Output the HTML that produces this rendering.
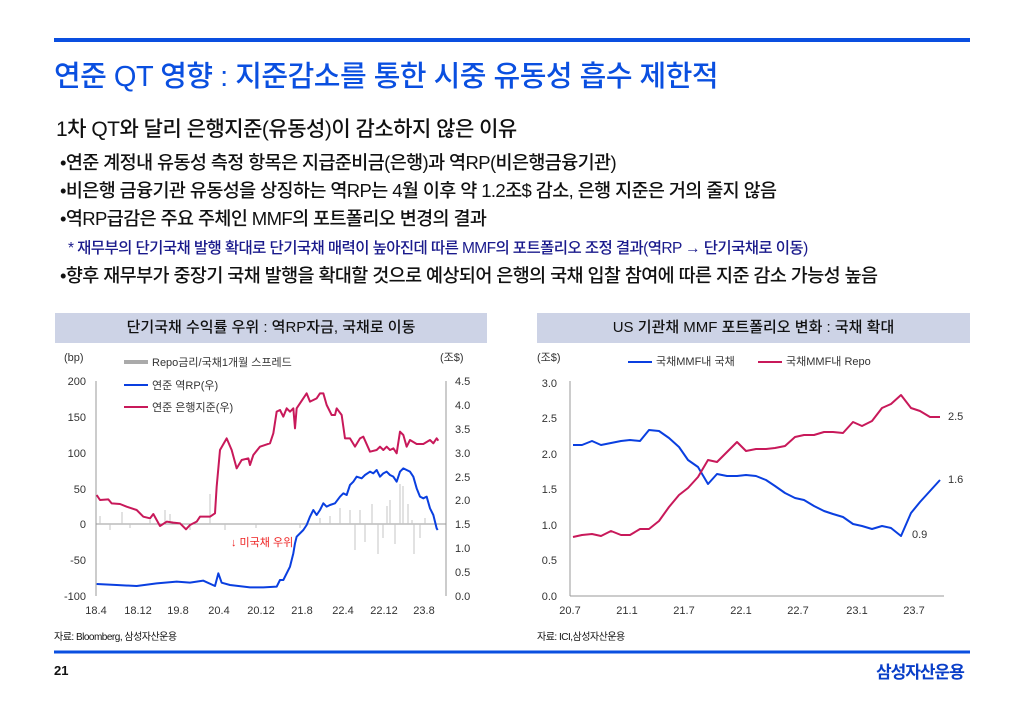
<!DOCTYPE html>
<html><head><meta charset="utf-8"><style>
body{margin:0;width:1024px;height:709px;background:#fff;position:relative;overflow:hidden;font-family:"Liberation Sans","Noto Sans CJK KR",sans-serif;color:#111}
.a{position:absolute;white-space:nowrap}
.b{font-size:18.5px;letter-spacing:-0.6px;font-weight:500;left:60px}
</style></head><body>
<div class="a" style="left:54px;top:38px;width:916px;height:4px;background:#0a4fe0"></div>
<div class="a" style="left:54px;top:53px;font-size:29px;color:#0a4fe0;letter-spacing:-0.5px;font-weight:500">연준 QT 영향 : 지준감소를 통한 시중 유동성 흡수 제한적</div>
<div class="a" style="left:56px;top:113px;font-size:21px;letter-spacing:-0.5px;font-weight:500">1차 QT와 달리 은행지준(유동성)이 감소하지 않은 이유</div>
<div class="a b" style="top:149px">•연준 계정내 유동성 측정 항목은 지급준비금(은행)과 역RP(비은행금융기관)</div>
<div class="a b" style="top:177px">•비은행 금융기관 유동성을 상징하는 역RP는 4월 이후 약 1.2조$ 감소, 은행 지준은 거의 줄지 않음</div>
<div class="a b" style="top:205px">•역RP급감은 주요 주체인 MMF의 포트폴리오 변경의 결과</div>
<div class="a" style="left:68px;top:236px;font-size:15.5px;color:#1a1a8c;letter-spacing:-0.6px;font-weight:500">* 재무부의 단기국채 발행 확대로 단기국채 매력이 높아진데 따른 MMF의 포트폴리오 조정 결과(역RP → 단기국채로 이동)</div>
<div class="a b" style="top:262px">•향후 재무부가 중장기 국채 발행을 확대할 것으로 예상되어 은행의 국채 입찰 참여에 따른 지준 감소 가능성 높음</div>

<div class="a" style="left:55px;top:313px;width:432px;height:30px;background:#cdd3e6;font-size:15px;line-height:30px;text-align:center;font-weight:500">단기국채 수익률 우위 : 역RP자금, 국채로 이동</div>
<div class="a" style="left:537px;top:313px;width:433px;height:30px;background:#cdd3e6;font-size:15px;line-height:30px;text-align:center;font-weight:500">US 기관채 MMF 포트폴리오 변화 : 국채 확대</div>

<svg class="a" style="left:0;top:0" width="1024" height="709" font-family="Liberation Sans, Noto Sans CJK KR, sans-serif">
<g font-size="11" fill="#333">
<text x="64" y="361">(bp)</text><text x="440" y="361">(조$)</text>
<g text-anchor="end"><text x="86" y="385">200</text><text x="86" y="421">150</text><text x="86" y="457">100</text><text x="86" y="493">50</text><text x="86" y="528">0</text><text x="86" y="564">-50</text><text x="86" y="600">-100</text></g>
<g><text x="455" y="385">4.5</text><text x="455" y="409">4.0</text><text x="455" y="433">3.5</text><text x="455" y="457">3.0</text><text x="455" y="481">2.5</text><text x="455" y="504">2.0</text><text x="455" y="528">1.5</text><text x="455" y="552">1.0</text><text x="455" y="576">0.5</text><text x="455" y="600">0.0</text></g>
<g text-anchor="middle"><text x="96" y="614">18.4</text><text x="138" y="614">18.12</text><text x="178" y="614">19.8</text><text x="219" y="614">20.4</text><text x="261" y="614">20.12</text><text x="302" y="614">21.8</text><text x="343" y="614">22.4</text><text x="384" y="614">22.12</text><text x="424" y="614">23.8</text></g>
<text x="152" y="366">Repo금리/국채1개월 스프레드</text>
<text x="152" y="389">연준 역RP(우)</text>
<text x="152" y="411">연준 은행지준(우)</text>
<text x="231" y="546" fill="#e22">↓ 미국채 우위</text>
</g>
<rect x="124" y="360" width="24" height="4" fill="#aaa"/>
<line x1="124" y1="385" x2="148" y2="385" stroke="#0a3fe0" stroke-width="2"/>
<line x1="124" y1="407" x2="148" y2="407" stroke="#c8195a" stroke-width="2"/>
<line x1="96" y1="381" x2="96" y2="596" stroke="#999"/>
<line x1="446" y1="381" x2="446" y2="596" stroke="#999"/>
<line x1="96" y1="524" x2="446" y2="524" stroke="#999"/>
<g stroke="#c4c4c4" stroke-width="1">
<path d="M100 524v-8M110 524v6M122 524v-12M130 524v4M165 524v-14M170 524v-10M190 524v6M210 524v-30M225 524v6M300 524v4M360 524v-14M365 524v18M372 524v-20M378 524v30M383 524v14M390 524v-24M395 524v20M400 524v-40M403 524v-38M408 524v-20M412 524v-4M414 524v30M420 524v14M425 524v-6M320 524v-6M330 524v-8M340 524v-16M350 524v-14M355 524v26M387 524v-18M256 524v4M150 524v-4"/>
</g>
<g transform="translate(50,340) scale(0.33333)" fill="none" stroke-width="6" stroke-linejoin="round">
<polyline stroke="#c8195a" points="140,465 150,480 175,478 185,490 210,492 230,500 260,510 280,530 300,535 310,522 330,558 350,545 370,548 390,550 408,568 420,555 440,545 450,530 480,530 495,520 500,440 510,330 530,295 545,330 560,385 575,360 595,355 600,375 610,345 630,320 660,310 670,280 680,215 690,210 700,230 710,205 720,215 730,205 735,265 740,205 760,175 770,160 780,185 800,175 810,160 820,160 830,195 845,225 855,225 860,205 875,225 885,295 900,295 915,320 930,295 940,290 960,335 980,330 990,320 1000,330 1010,320 1020,330 1030,325 1040,340 1050,275 1060,285 1070,320 1080,300 1100,312 1120,312 1140,300 1150,310 1160,295 1165,302"/>
<polyline stroke="#0a3fe0" points="140,732 200,735 260,738 320,730 380,725 420,728 460,722 495,738 505,700 515,728 540,735 600,742 640,742 680,740 690,720 700,720 720,680 730,640 735,610 740,590 760,570 770,555 780,530 790,510 800,525 810,510 820,490 830,500 840,495 855,490 870,470 880,460 890,465 900,435 910,425 920,410 935,415 945,405 960,395 970,400 980,390 990,410 1000,400 1010,395 1020,405 1030,410 1040,425 1050,395 1060,385 1080,395 1090,410 1100,445 1110,470 1120,475 1130,470 1140,505 1150,525 1160,565 1163,570"/>
</g>
<g font-size="11" fill="#333">
<text x="537" y="361">(조$)</text>
<g text-anchor="end"><text x="557" y="387">3.0</text><text x="557" y="422">2.5</text><text x="557" y="458">2.0</text><text x="557" y="493">1.5</text><text x="557" y="529">1.0</text><text x="557" y="564">0.5</text><text x="557" y="600">0.0</text></g>
<g text-anchor="middle"><text x="570" y="614">20.7</text><text x="627" y="614">21.1</text><text x="684" y="614">21.7</text><text x="741" y="614">22.1</text><text x="798" y="614">22.7</text><text x="857" y="614">23.1</text><text x="914" y="614">23.7</text></g>
<text x="656" y="365">국채MMF내 국채</text><text x="786" y="365">국채MMF내 Repo</text>
<text x="948" y="420">2.5</text><text x="948" y="483">1.6</text><text x="912" y="538">0.9</text>
</g>
<line x1="628" y1="362" x2="652" y2="362" stroke="#0a3fe0" stroke-width="2"/>
<line x1="758" y1="362" x2="782" y2="362" stroke="#c8195a" stroke-width="2"/>
<line x1="570" y1="381" x2="570" y2="596" stroke="#999"/>
<line x1="570" y1="596" x2="944" y2="596" stroke="#999"/>
<g fill="none" stroke-width="2" stroke-linejoin="round">
<polyline stroke="#0a3fe0" points="573,445 582,445 592,441 601,445 611,443 621,441 630,440 640,441 649,430 659,431 669,438 679,447 688,460 698,467 708,484 717,474 727,476 737,476 746,475 756,476 766,480 775,486 785,493 795,498 804,500 814,506 824,511 833,514 843,517 853,524 862,526 872,529 882,526 891,528 901,536 911,513 920,502 930,491 940,480"/>
<polyline stroke="#c8195a" points="573,537 582,535 592,534 601,536 611,531 621,535 630,535 640,529 649,529 659,521 669,507 679,495 688,488 698,477 708,460 717,462 727,452 737,442 746,451 756,449 766,449 775,448 785,446 795,437 804,435 814,435 824,432 833,432 843,433 853,422 862,426 872,421 882,408 891,404 901,395 911,408 920,411 930,417 940,417"/>
</g>
<line x1="54" y1="652" x2="970" y2="652" stroke="#0a4fe0" stroke-width="3"/>
</svg>
<div class="a" style="left:54px;top:628px;font-size:10px;letter-spacing:-0.5px">자료: Bloomberg, 삼성자산운용</div>
<div class="a" style="left:537px;top:628px;font-size:10px;letter-spacing:-0.5px">자료: ICI,삼성자산운용</div>
<div class="a" style="left:54px;top:663px;font-size:13px;font-weight:bold">21</div>
<div class="a" style="left:876px;top:658px;font-size:17px;font-weight:bold;color:#0a3fc8;letter-spacing:-1px">삼성자산운용</div>
</body></html>
